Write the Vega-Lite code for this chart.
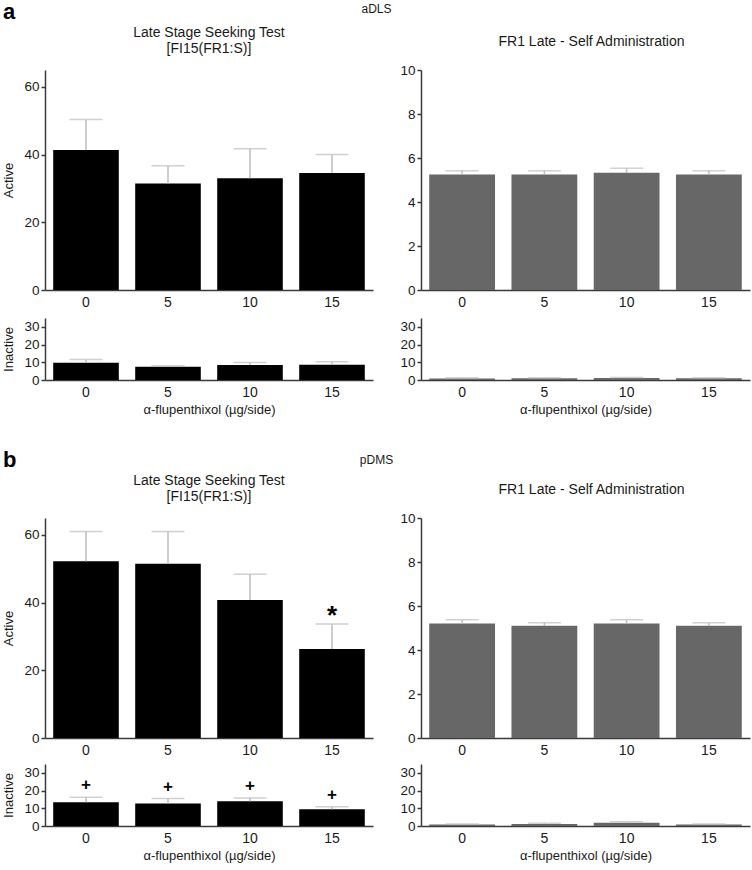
{
  "$schema": "https://vega.github.io/schema/vega-lite/v6.json",
  "padding": {"left": 2, "top": 1, "right": 2, "bottom": 2},
  "background": "white",
  "config": {
    "font": "Liberation Sans",
    "view": {"stroke": null},
    "axis": {"grid": false, "domainColor": "#3a3a3a", "domainWidth": 1.5, "tickColor": "#3a3a3a", "tickWidth": 1.5, "tickSize": 4, "labelFontSize": 13.5, "labelColor": "#1a1a1a", "titleFontSize": 13, "titleFontWeight": "normal", "titleColor": "#1a1a1a", "labelFont": "Liberation Sans", "titleFont": "Liberation Sans", "labelOverlap": false},
    "axisX": {"ticks": false, "labelAngle": 0, "labelPadding": 5, "titlePadding": 4, "labelFontSize": 14},
    "axisY": {"labelPadding": 2, "titlePadding": 8},
    "title": {"fontSize": 14, "fontWeight": "normal", "color": "#1a1a1a", "font": "Liberation Sans", "lineHeight": 16}
  },
  "datasets": {
    "d": [
      {"s": "a", "p": "seek", "m": "Active", "dose": "0", "mean": 41.4, "upper": 50.4},
      {"s": "a", "p": "seek", "m": "Active", "dose": "5", "mean": 31.5, "upper": 36.7},
      {"s": "a", "p": "seek", "m": "Active", "dose": "10", "mean": 33.0, "upper": 41.7},
      {"s": "a", "p": "seek", "m": "Active", "dose": "15", "mean": 34.6, "upper": 40.0},
      {"s": "a", "p": "seek", "m": "Inactive", "dose": "0", "mean": 9.7, "upper": 11.6},
      {"s": "a", "p": "seek", "m": "Inactive", "dose": "5", "mean": 7.5, "upper": 8.0},
      {"s": "a", "p": "seek", "m": "Inactive", "dose": "10", "mean": 8.4, "upper": 9.9},
      {"s": "a", "p": "seek", "m": "Inactive", "dose": "15", "mean": 8.6, "upper": 10.3},
      {"s": "a", "p": "fr1", "m": "Active", "dose": "0", "mean": 5.25, "upper": 5.42},
      {"s": "a", "p": "fr1", "m": "Active", "dose": "5", "mean": 5.25, "upper": 5.42},
      {"s": "a", "p": "fr1", "m": "Active", "dose": "10", "mean": 5.33, "upper": 5.53},
      {"s": "a", "p": "fr1", "m": "Active", "dose": "15", "mean": 5.25, "upper": 5.42},
      {"s": "a", "p": "fr1", "m": "Inactive", "dose": "0", "mean": 0.9, "upper": 1.2},
      {"s": "a", "p": "fr1", "m": "Inactive", "dose": "5", "mean": 1.0, "upper": 1.3},
      {"s": "a", "p": "fr1", "m": "Inactive", "dose": "10", "mean": 1.1, "upper": 1.4},
      {"s": "a", "p": "fr1", "m": "Inactive", "dose": "15", "mean": 1.0, "upper": 1.3},
      {"s": "b", "p": "seek", "m": "Active", "dose": "0", "mean": 52.2, "upper": 61.0},
      {"s": "b", "p": "seek", "m": "Active", "dose": "5", "mean": 51.5, "upper": 61.0},
      {"s": "b", "p": "seek", "m": "Active", "dose": "10", "mean": 40.8, "upper": 48.4},
      {"s": "b", "p": "seek", "m": "Active", "dose": "15", "mean": 26.3, "upper": 33.7, "sig": "*"},
      {"s": "b", "p": "seek", "m": "Inactive", "dose": "0", "mean": 13.4, "upper": 16.2, "sig": "+"},
      {"s": "b", "p": "seek", "m": "Inactive", "dose": "5", "mean": 12.7, "upper": 15.5, "sig": "+"},
      {"s": "b", "p": "seek", "m": "Inactive", "dose": "10", "mean": 14.0, "upper": 15.8, "sig": "+"},
      {"s": "b", "p": "seek", "m": "Inactive", "dose": "15", "mean": 9.5, "upper": 10.8, "sig": "+"},
      {"s": "b", "p": "fr1", "m": "Active", "dose": "0", "mean": 5.2, "upper": 5.37},
      {"s": "b", "p": "fr1", "m": "Active", "dose": "5", "mean": 5.1, "upper": 5.24},
      {"s": "b", "p": "fr1", "m": "Active", "dose": "10", "mean": 5.2, "upper": 5.37},
      {"s": "b", "p": "fr1", "m": "Active", "dose": "15", "mean": 5.1, "upper": 5.24},
      {"s": "b", "p": "fr1", "m": "Inactive", "dose": "0", "mean": 0.8, "upper": 1.1},
      {"s": "b", "p": "fr1", "m": "Inactive", "dose": "5", "mean": 1.1, "upper": 1.5},
      {"s": "b", "p": "fr1", "m": "Inactive", "dose": "10", "mean": 1.9, "upper": 2.4},
      {"s": "b", "p": "fr1", "m": "Inactive", "dose": "15", "mean": 0.8, "upper": 1.1}
    ]
  },
  "data": {"name": "d"},
  "spacing": 33,
  "vconcat": [
    {
      "title": {"text": "aDLS", "anchor": "middle", "fontSize": 12, "dy": 19},
      "spacing": 26,
      "hconcat": [
        {
          "title": {"text": "a", "anchor": "start", "fontSize": 22, "fontWeight": "bold", "color": "#000", "offset": 2},
          "spacing": 9,
          "vconcat": [
            {
              "width": 328, "height": 220,
              "title": {"text": ["Late Stage Seeking Test", "[FI15(FR1:S)]"], "offset": 14},
              "transform": [{"filter": "datum.s === 'a' && datum.p === 'seek' && datum.m === 'Active'"}],
              "encoding": {"x": {"field": "dose", "type": "ordinal", "sort": ["0", "5", "10", "15"], "scale": {"paddingInner": 0.2, "paddingOuter": 0.1}, "title": null}},
              "layer": [
                {"mark": {"type": "bar", "color": "#000000"}, "encoding": {"y": {"field": "mean", "type": "quantitative", "title": "Active", "scale": {"domain": [0, 65], "nice": false}, "axis": {"values": [0, 20, 40, 60], "tickCount": 10, "labelOverlap": false}}}},
                {"mark": {"type": "rule", "color": "#bdbdbd", "strokeWidth": 1.5}, "encoding": {"y": {"field": "mean", "type": "quantitative", "title": "Active"}, "y2": {"field": "upper"}}},
                {"mark": {"type": "tick", "color": "#bdbdbd", "thickness": 1.5, "size": 33}, "encoding": {"y": {"field": "upper", "type": "quantitative", "title": "Active"}}}
              ]
            },
            {
              "width": 328, "height": 62,
              "transform": [{"filter": "datum.s === 'a' && datum.p === 'seek' && datum.m === 'Inactive'"}],
              "encoding": {"x": {"field": "dose", "type": "ordinal", "sort": ["0", "5", "10", "15"], "scale": {"paddingInner": 0.2, "paddingOuter": 0.1}, "title": "α-flupenthixol (µg/side)"}},
              "layer": [
                {"mark": {"type": "bar", "color": "#000000"}, "encoding": {"y": {"field": "mean", "type": "quantitative", "title": "Inactive", "scale": {"domain": [0, 35], "nice": false}, "axis": {"values": [0, 10, 20, 30], "tickCount": 10, "labelOverlap": false}}}},
                {"mark": {"type": "rule", "color": "#bdbdbd", "strokeWidth": 1.5}, "encoding": {"y": {"field": "mean", "type": "quantitative", "title": "Inactive"}, "y2": {"field": "upper"}}},
                {"mark": {"type": "tick", "color": "#bdbdbd", "thickness": 1.5, "size": 33}, "encoding": {"y": {"field": "upper", "type": "quantitative", "title": "Inactive"}}}
              ]
            }
          ]
        },
        {
          "spacing": 9,
          "vconcat": [
            {
              "width": 329, "height": 220,
              "title": {"text": [" ", "FR1 Late - Self Administration"], "offset": 14, "dx": 6},
              "transform": [{"filter": "datum.s === 'a' && datum.p === 'fr1' && datum.m === 'Active'"}],
              "encoding": {"x": {"field": "dose", "type": "ordinal", "sort": ["0", "5", "10", "15"], "scale": {"paddingInner": 0.2, "paddingOuter": 0.1}, "title": null}},
              "layer": [
                {"mark": {"type": "bar", "color": "#676767"}, "encoding": {"y": {"field": "mean", "type": "quantitative", "title": null, "scale": {"domain": [0, 10], "nice": false}, "axis": {"values": [0, 2, 4, 6, 8, 10], "tickCount": 10, "labelOverlap": false}}}},
                {"mark": {"type": "rule", "color": "#bdbdbd", "strokeWidth": 1.5}, "encoding": {"y": {"field": "mean", "type": "quantitative", "title": null}, "y2": {"field": "upper"}}},
                {"mark": {"type": "tick", "color": "#bdbdbd", "thickness": 1.5, "size": 33}, "encoding": {"y": {"field": "upper", "type": "quantitative", "title": null}}}
              ]
            },
            {
              "width": 329, "height": 62,
              "transform": [{"filter": "datum.s === 'a' && datum.p === 'fr1' && datum.m === 'Inactive'"}],
              "encoding": {"x": {"field": "dose", "type": "ordinal", "sort": ["0", "5", "10", "15"], "scale": {"paddingInner": 0.2, "paddingOuter": 0.1}, "title": "α-flupenthixol (µg/side)"}},
              "layer": [
                {"mark": {"type": "bar", "color": "#676767"}, "encoding": {"y": {"field": "mean", "type": "quantitative", "title": null, "scale": {"domain": [0, 35], "nice": false}, "axis": {"values": [0, 10, 20, 30], "tickCount": 10, "labelOverlap": false}}}},
                {"mark": {"type": "rule", "color": "#bdbdbd", "strokeWidth": 1.5}, "encoding": {"y": {"field": "mean", "type": "quantitative", "title": null}, "y2": {"field": "upper"}}},
                {"mark": {"type": "tick", "color": "#bdbdbd", "thickness": 1.5, "size": 33}, "encoding": {"y": {"field": "upper", "type": "quantitative", "title": null}}}
              ]
            }
          ]
        }
      ]
    },
    {
      "title": {"text": "pDMS", "anchor": "middle", "fontSize": 12, "dy": 22},
      "spacing": 26,
      "hconcat": [
        {
          "title": {"text": "b", "anchor": "start", "fontSize": 22, "fontWeight": "bold", "color": "#000", "offset": 2},
          "spacing": 7,
          "vconcat": [
            {
              "width": 328, "height": 220,
              "title": {"text": ["Late Stage Seeking Test", "[FI15(FR1:S)]"], "offset": 14},
              "transform": [{"filter": "datum.s === 'b' && datum.p === 'seek' && datum.m === 'Active'"}],
              "encoding": {"x": {"field": "dose", "type": "ordinal", "sort": ["0", "5", "10", "15"], "scale": {"paddingInner": 0.2, "paddingOuter": 0.1}, "title": null}},
              "layer": [
                {"mark": {"type": "bar", "color": "#000000"}, "encoding": {"y": {"field": "mean", "type": "quantitative", "title": "Active", "scale": {"domain": [0, 65], "nice": false}, "axis": {"values": [0, 20, 40, 60], "tickCount": 10, "labelOverlap": false}}}},
                {"mark": {"type": "rule", "color": "#bdbdbd", "strokeWidth": 1.5}, "encoding": {"y": {"field": "mean", "type": "quantitative", "title": "Active"}, "y2": {"field": "upper"}}},
                {"mark": {"type": "tick", "color": "#bdbdbd", "thickness": 1.5, "size": 33}, "encoding": {"y": {"field": "upper", "type": "quantitative", "title": "Active"}}},
                {"transform": [{"filter": "datum.sig"}], "mark": {"type": "text", "fontSize": 26, "fontWeight": "bold", "baseline": "alphabetic", "color": "#000"}, "encoding": {"y": {"field": "upper", "type": "quantitative", "title": "Active"}, "text": {"field": "sig"}}}
              ]
            },
            {
              "width": 328, "height": 62,
              "transform": [{"filter": "datum.s === 'b' && datum.p === 'seek' && datum.m === 'Inactive'"}],
              "encoding": {"x": {"field": "dose", "type": "ordinal", "sort": ["0", "5", "10", "15"], "scale": {"paddingInner": 0.2, "paddingOuter": 0.1}, "title": "α-flupenthixol (µg/side)"}},
              "layer": [
                {"mark": {"type": "bar", "color": "#000000"}, "encoding": {"y": {"field": "mean", "type": "quantitative", "title": "Inactive", "scale": {"domain": [0, 35], "nice": false}, "axis": {"values": [0, 10, 20, 30], "tickCount": 10, "labelOverlap": false}}}},
                {"mark": {"type": "rule", "color": "#bdbdbd", "strokeWidth": 1.5}, "encoding": {"y": {"field": "mean", "type": "quantitative", "title": "Inactive"}, "y2": {"field": "upper"}}},
                {"mark": {"type": "tick", "color": "#bdbdbd", "thickness": 1.5, "size": 33}, "encoding": {"y": {"field": "upper", "type": "quantitative", "title": "Inactive"}}},
                {"transform": [{"filter": "datum.sig"}], "mark": {"type": "text", "fontSize": 17, "fontWeight": "bold", "baseline": "alphabetic", "dy": -7, "color": "#000"}, "encoding": {"y": {"field": "upper", "type": "quantitative", "title": "Inactive"}, "text": {"field": "sig"}}}
              ]
            }
          ]
        },
        {
          "spacing": 7,
          "vconcat": [
            {
              "width": 329, "height": 220,
              "title": {"text": [" ", "FR1 Late - Self Administration"], "offset": 14, "dx": 6},
              "transform": [{"filter": "datum.s === 'b' && datum.p === 'fr1' && datum.m === 'Active'"}],
              "encoding": {"x": {"field": "dose", "type": "ordinal", "sort": ["0", "5", "10", "15"], "scale": {"paddingInner": 0.2, "paddingOuter": 0.1}, "title": null}},
              "layer": [
                {"mark": {"type": "bar", "color": "#676767"}, "encoding": {"y": {"field": "mean", "type": "quantitative", "title": null, "scale": {"domain": [0, 10], "nice": false}, "axis": {"values": [0, 2, 4, 6, 8, 10], "tickCount": 10, "labelOverlap": false}}}},
                {"mark": {"type": "rule", "color": "#bdbdbd", "strokeWidth": 1.5}, "encoding": {"y": {"field": "mean", "type": "quantitative", "title": null}, "y2": {"field": "upper"}}},
                {"mark": {"type": "tick", "color": "#bdbdbd", "thickness": 1.5, "size": 33}, "encoding": {"y": {"field": "upper", "type": "quantitative", "title": null}}}
              ]
            },
            {
              "width": 329, "height": 62,
              "transform": [{"filter": "datum.s === 'b' && datum.p === 'fr1' && datum.m === 'Inactive'"}],
              "encoding": {"x": {"field": "dose", "type": "ordinal", "sort": ["0", "5", "10", "15"], "scale": {"paddingInner": 0.2, "paddingOuter": 0.1}, "title": "α-flupenthixol (µg/side)"}},
              "layer": [
                {"mark": {"type": "bar", "color": "#676767"}, "encoding": {"y": {"field": "mean", "type": "quantitative", "title": null, "scale": {"domain": [0, 35], "nice": false}, "axis": {"values": [0, 10, 20, 30], "tickCount": 10, "labelOverlap": false}}}},
                {"mark": {"type": "rule", "color": "#bdbdbd", "strokeWidth": 1.5}, "encoding": {"y": {"field": "mean", "type": "quantitative", "title": null}, "y2": {"field": "upper"}}},
                {"mark": {"type": "tick", "color": "#bdbdbd", "thickness": 1.5, "size": 33}, "encoding": {"y": {"field": "upper", "type": "quantitative", "title": null}}}
              ]
            }
          ]
        }
      ]
    }
  ]
}
